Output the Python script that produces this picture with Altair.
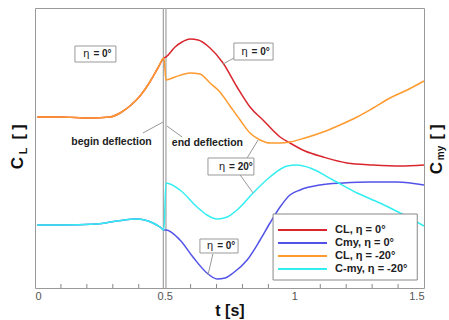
import altair as alt
import pandas as pd

FONT = "Liberation Sans"

series_names = ["CL, η = 0°", "Cmy, η = 0°", "CL, η = -20°", "C-my, η = -20°"]
series_colors = ["#d9262e", "#5252e8", "#ff9a2e", "#33eef0"]

# CL, eta = -20 deg (orange)
t_cl20 = [0.008, 0.096, 0.212, 0.289, 0.328, 0.366, 0.405, 0.443, 0.474, 0.497,
          0.505, 0.540, 0.598, 0.636, 0.675, 0.713, 0.752, 0.791, 0.829, 0.868,
          0.906, 0.945, 0.983, 1.041, 1.111, 1.176, 1.242, 1.304, 1.369, 1.435, 1.500]
v_cl20 = [171, 171, 170, 171, 175, 182, 192, 206, 220, 230,
          208, 211, 215, 214, 205, 196, 182, 168, 155, 148,
          145, 145, 146, 150, 156, 163, 171, 180, 190, 198, 207]

# CL, eta = 0 deg (red)
t_cl0 = [0.008, 0.096, 0.212, 0.289, 0.328, 0.366, 0.405, 0.443, 0.474, 0.497,
         0.505, 0.540, 0.567, 0.598, 0.629, 0.675, 0.725, 0.779, 0.829, 0.879,
         0.945, 0.983, 1.041, 1.111, 1.203, 1.304, 1.408, 1.500]
v_cl0 = [171, 171, 170, 171, 175, 182, 192, 206, 220, 230,
         231, 241, 246, 249, 248, 240, 225, 201, 181, 168,
         151, 145, 137, 131, 125, 123, 122, 123]

# C-my, eta = -20 deg (cyan)
t_cm20 = [0.008, 0.096, 0.239, 0.316, 0.393, 0.455, 0.482, 0.497,
          0.505, 0.559, 0.625, 0.663, 0.702, 0.741, 0.779, 0.841, 0.906, 0.972,
          1.010, 1.061, 1.149, 1.242, 1.330, 1.408, 1.500]
v_cm20 = [63, 63, 64, 67, 69, 65, 61, 58,
          105, 98, 81, 73, 69, 71, 78, 95, 111, 122,
          123, 120, 108, 95, 85, 75, 62]

# Cmy, eta = 0 deg (blue)
t_cm0 = [0.008, 0.096, 0.239, 0.316, 0.393, 0.455, 0.482, 0.497,
         0.505, 0.559, 0.609, 0.663, 0.702, 0.733, 0.764, 0.818, 0.868, 0.906,
         0.945, 0.983, 1.022, 1.099, 1.188, 1.292, 1.396, 1.500]
v_cm0 = [63, 63, 64, 67, 69, 65, 61, 58,
         58, 48, 31, 15, 9, 10, 15, 28, 48, 65,
         81, 93, 98, 103, 105, 106, 106, 103]

x_labels = [0, 0.5, 1, 1.5]
minor_ticks = [0.1, 0.2, 0.3, 0.4, 0.6, 0.7, 0.8, 0.9, 1.1, 1.2, 1.3, 1.4]
deflection_t = [0.495, 0.505]

# annotation boxes (data coords)
box_t1 = [0.154, 0.767, 0.667, 0.636]
box_t2 = [0.312, 0.918, 0.844, 0.783]
box_v1 = [226, 228, 113, 35]
box_v2 = [242, 245, 130, 49]
box_tc = [0.233, 0.843, 0.756, 0.710]
box_vc = [234, 236.5, 121.5, 42]
box_val = ["= 0°", "= 0°", "= 20°", "= 0°"]

# leader lines
lead_t1 = [0.767, 0.818, 0.791, 0.686, 0.416, 0.509]
lead_v1 = [230, 130, 113, 34, 155, 162]
lead_t2 = [0.725, 0.860, 0.841, 0.667, 0.494, 0.567]
lead_v2 = [224, 148, 95, 13, 166, 151]

note_text = ["begin deflection", "end deflection"]
note_t = [0.295, 0.665]
note_v = [146, 145]

# legend
leg_box = [0.918, 1.474, 8, 74]
leg_v = [58, 45, 32, 19]
leg_line_t = [0.937, 1.126]
leg_text_t = 1.157

rows = []
for name, ts, vs in [(series_names[0], t_cl0, v_cl0), (series_names[1], t_cm0, v_cm0),
                     (series_names[2], t_cl20, v_cl20), (series_names[3], t_cm20, v_cm20)]:
    for i, (t, v) in enumerate(zip(ts, vs)):
        rows.append({"t": t, "v": v, "series": name, "i": i})
df = pd.DataFrame(rows)

xscale = alt.Scale(domain=[0, 1.5], nice=False, zero=False)
yscale = alt.Scale(domain=[0, 280], nice=False, zero=False)
cscale = alt.Scale(domain=series_names, range=series_colors)
xaxis = alt.Axis(values=x_labels, format="~g", ticks=False, domain=False, grid=False,
                 labelFontSize=11, labelColor="#555", labelFont=FONT, labelPadding=2,
                 title="t [s]", titleFontSize=16, titleFont=FONT, titleFontWeight="bold",
                 titleColor="#111", titlePadding=1)


def X(field):
    return alt.X(field, scale=xscale, axis=xaxis)


def Y(field):
    return alt.Y(field, scale=yscale, axis=None)


vlines = alt.Chart(pd.DataFrame({"t": deflection_t})).mark_rule(
    color="#a8a8a8", strokeWidth=1.3
).encode(x=X("t:Q"))

lines = alt.Chart(df).mark_line(strokeWidth=1.5, interpolate="monotone").encode(
    x=X("t:Q"),
    y=Y("v:Q"),
    color=alt.Color("series:N", scale=cscale, legend=None),
    order=alt.Order("i:Q"),
)

ticks = alt.Chart(pd.DataFrame({"t": minor_ticks})).mark_rule(color="#888", strokeWidth=1).encode(
    x=X("t:Q"), y=alt.value(280), y2=alt.value(276))

leads = alt.Chart(pd.DataFrame({"t1": lead_t1, "t2": lead_t2, "v1": lead_v1, "v2": lead_v2})).mark_rule(
    color="#999", strokeWidth=1).encode(
    x=X("t1:Q"), x2="t2:Q", y=Y("v1:Q"), y2="v2:Q")

boxdf = pd.DataFrame({"t1": box_t1, "t2": box_t2, "v1": box_v1, "v2": box_v2,
                      "tc": box_tc, "vc": box_vc, "val": box_val})
boxes = alt.Chart(boxdf).mark_rect(fill="white", stroke="#999", strokeWidth=1).encode(
    x=X("t1:Q"), x2="t2:Q", y=Y("v1:Q"), y2="v2:Q")
box_eta = alt.Chart(boxdf).mark_text(font=FONT, fontSize=11, align="right", baseline="middle",
                                     dx=-6, color="#222", text="η").encode(
    x=X("tc:Q"), y=Y("vc:Q"))
box_txt = alt.Chart(boxdf).mark_text(font=FONT, fontSize=10, fontWeight="bold", align="left",
                                     baseline="middle", dx=-2, color="#222").encode(
    x=X("tc:Q"), y=Y("vc:Q"), text="val:N")

notes = alt.Chart(pd.DataFrame({"t": note_t, "v": note_v, "s": note_text})).mark_text(
    font=FONT, fontSize=10.5, fontWeight="bold", align="center", baseline="middle", color="#222").encode(
    x=X("t:Q"), y=Y("v:Q"), text="s:N")

legbox = alt.Chart(pd.DataFrame({"t1": [leg_box[0]], "t2": [leg_box[1]],
                                 "v1": [leg_box[2]], "v2": [leg_box[3]]})).mark_rect(
    fill="white", stroke="#888", strokeWidth=1).encode(
    x=X("t1:Q"), x2="t2:Q", y=Y("v1:Q"), y2="v2:Q")
legdf = pd.DataFrame({"series": series_names, "v": leg_v,
                      "t1": [leg_line_t[0]] * 4, "t2": [leg_line_t[1]] * 4, "tt": [leg_text_t] * 4})
leglines = alt.Chart(legdf).mark_rule(strokeWidth=2).encode(
    x=X("t1:Q"), x2="t2:Q", y=Y("v:Q"),
    color=alt.Color("series:N", scale=cscale, legend=None))
legtext = alt.Chart(legdf).mark_text(font=FONT, fontSize=11, fontWeight="bold", align="left",
                                     baseline="middle", color="#222").encode(
    x=X("tt:Q"), y=Y("v:Q"), text="series:N")

one = pd.DataFrame({"a": [0]})


def ytitle(txt, x, y, size):
    return alt.Chart(one).mark_text(font=FONT, fontSize=size, fontWeight="bold", angle=270,
                                    align="center", baseline="middle", color="#111", text=txt).encode(
        x=alt.value(x), y=alt.value(y))


titles = [
    ytitle("C", -17, 155, 17), ytitle("L", -11, 143, 11), ytitle("[ ]", -16, 124, 16),
    ytitle("C", 402, 160, 17), ytitle("my", 406, 145, 10), ytitle("[ ]", 402, 124, 16),
]

chart = alt.layer(vlines, lines, ticks, leads, boxes, box_eta, box_txt, notes,
                  legbox, leglines, legtext, *titles).properties(
    width=389, height=280, autosize="none",
    padding={"left": 35, "top": 8, "right": 25, "bottom": 32},
).configure_view(stroke="#999", strokeWidth=1)

chart.save("out.html", embed_options={"renderer": "svg", "actions": False})
